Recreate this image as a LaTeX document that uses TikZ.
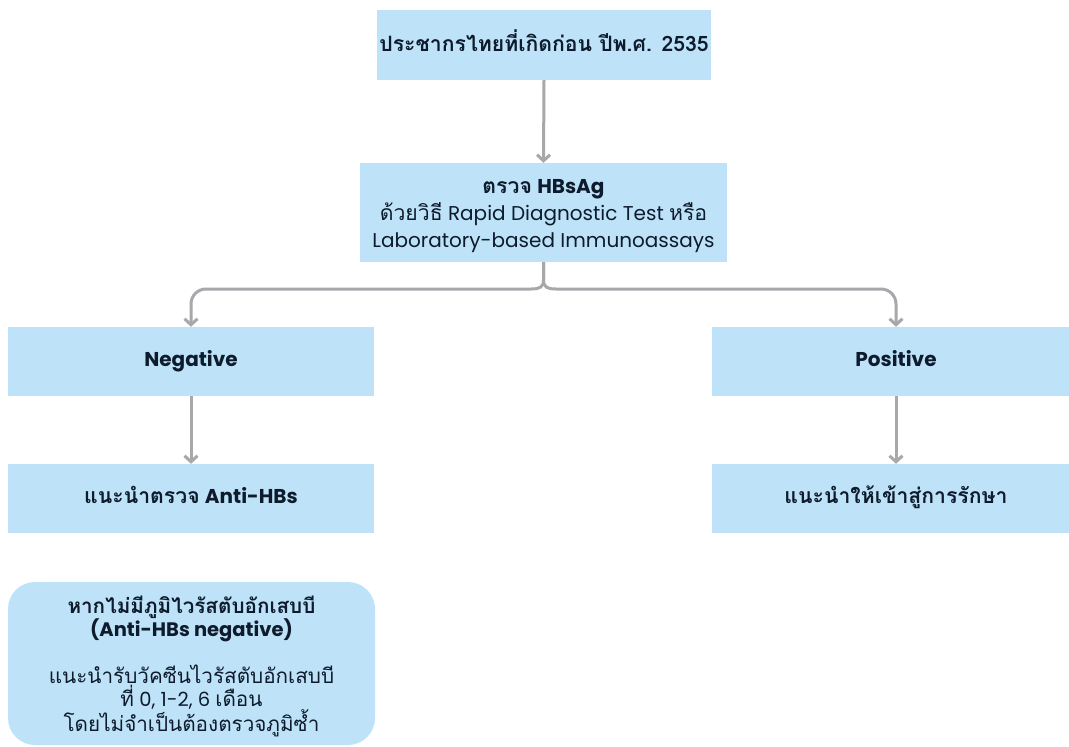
\documentclass[tikz,border=0pt]{standalone}
\usepackage{fontspec}
\setmainfont{Poppins}
\newfontfamily\thai[Script=Thai,Scale=1.06]{Loma}
\usetikzlibrary{arrows.meta}
\definecolor{boxfill}{HTML}{BEE3F9}
\definecolor{ink}{HTML}{0E1B2C}
\definecolor{conn}{HTML}{A6A8AB}
\tikzset{
  box/.style={fill=boxfill, draw=none, text=ink, align=center, inner sep=0pt, font=\fontsize{20}{27}\selectfont},
  boxtext/.style={text=ink, align=center, inner sep=0pt, font=\fontsize{20}{27}\selectfont},
  link/.style={draw=conn, line width=3pt, -{Straight Barb[length=6pt,width=13pt,line width=3pt]}},
}
\begin{document}
\begin{tikzpicture}[x=1pt,y=-1pt]
\useasboundingbox (0,0) rectangle (1069,747);
\clip (0,0) rectangle (1069,747);
\fill[white] (0,0) rectangle (1069,747);

\node[box, minimum width=334pt, minimum height=70pt] (top) at (544,45)
  {\strut{\thai\bfseries ประชากรไทยที่เกิดก่อน ปีพ.ศ. 2535}};

\node[box, minimum width=367pt, minimum height=99pt] (b2) at (543.5,212.5) {};
\node[boxtext] (b2t) at ([yshift=-4pt]b2.center)
  {{\thai\bfseries ตรวจ} \textbf{HBsAg}\\
   {\thai ด้วยวิธี} Rapid Diagnostic Test {\thai หรือ}\\
   Laboratory-based Immunoassays};

\node[box, minimum width=366pt, minimum height=69pt] (neg) at (191,361.5) {\strut\textbf{Negative}};
\node[box, minimum width=368pt, minimum height=69pt] (pos) at (896,361.5) {\strut\textbf{Positive}};

\node[box, minimum width=366pt, minimum height=69pt] (anti) at (191,498.5)
  {\strut{\thai\bfseries แนะนำตรวจ} \textbf{Anti-HBs}};
\node[box, minimum width=368pt, minimum height=69pt] (treat) at (896,498.5)
  {\strut{\thai\bfseries แนะนำให้เข้าสู่การรักษา}};

\node[box, rounded corners=27pt, minimum width=367pt, minimum height=163pt,
      font=\fontsize{19.5}{23}\selectfont] (vac) at (191.5,663.5) {};
\node[boxtext, font=\fontsize{19.5}{23}\selectfont] (vact) at ([yshift=-3pt]vac.center)
  {{\thai\bfseries หากไม่มีภูมิไวรัสตับอักเสบบี}\\
   \textbf{(Anti-HBs negative)}\\[22pt]
   {\thai แนะนำรับวัคซีนไวรัสตับอักเสบบี}\\
   {\thai ที่} 0, 1-2, 6 {\thai เดือน}\\
   {\thai โดยไม่จำเป็นต้องตรวจภูมิซ้ำ}};

\coordinate (stem) at (543.5,280);
\draw[link] (top.south) -- (b2.north);
\draw[link] (b2.south) -- (stem) .. controls (543.5,287) and (540,289) .. (531,289)
  [rounded corners=15pt] -- (neg.north |- 0,289) -- (neg.north);
\draw[link] (b2.south) -- (stem) .. controls (543.5,287) and (547,289) .. (556,289)
  [rounded corners=15pt] -- (pos.north |- 0,289) -- (pos.north);
\draw[link] (neg.south) -- (anti.north);
\draw[link] (pos.south) -- (treat.north);
\end{tikzpicture}
\end{document}
